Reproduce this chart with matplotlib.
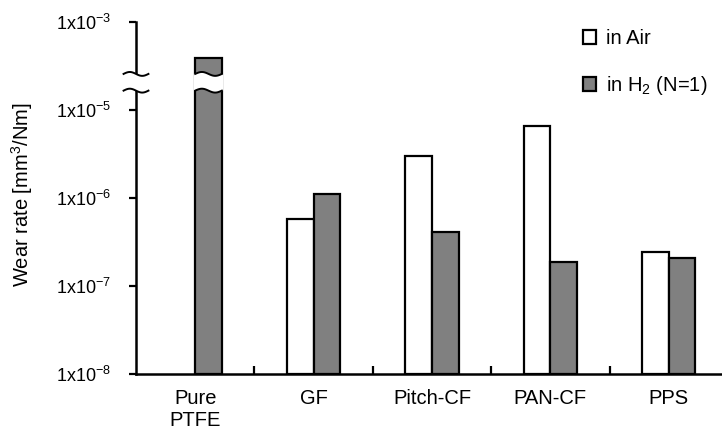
import numpy as np
import matplotlib
matplotlib.use("Agg")
import matplotlib.pyplot as plt
from matplotlib.patches import Polygon

plt.rcParams['font.family'] = ['Liberation Sans', 'DejaVu Sans']
plt.rcParams['mathtext.fontset'] = 'custom'
plt.rcParams['mathtext.rm'] = 'Liberation Sans'
plt.rcParams['mathtext.it'] = 'Liberation Sans:italic'

# ---- data ----
categories = ["Pure\nPTFE", "GF", "Pitch-CF", "PAN-CF", "PPS"]
wear_air = [np.nan, 5.7e-7, 3.0e-6, 6.6e-6, 2.45e-7]
wear_h2 = [1.5e-4, 1.1e-6, 4.1e-7, 1.85e-7, 2.1e-7]
ytick_vals = [1e-8, 1e-7, 1e-6, 1e-5, 1e-3]
ytick_labels = ["1x10$^{-8}$", "1x10$^{-7}$", "1x10$^{-6}$", "1x10$^{-5}$", "1x10$^{-3}$"]
series_labels = ["in Air", "in H$_2$ (N=1)"]
BREAK = 1e-5  # above this the log axis is compressed by 2


def fwd(v):
    v = np.asarray(v, dtype=float)
    lv = np.log10(np.clip(v, 1e-30, None))
    return np.where(lv <= -5, lv, -5 + (lv + 5) / 2)


def inv(t):
    t = np.asarray(t, dtype=float)
    return np.where(t <= -5, 10 ** t, 10 ** (-5 + (t + 5) * 2))


fig = plt.figure(figsize=(7.22, 4.37), dpi=100)
ax = fig.add_axes([136 / 722, 63 / 437, 592 / 722, 352 / 437])
ax.set_yscale('function', functions=(fwd, inv))

x = np.arange(len(categories))
w = 0.225
base = 1e-8
air = np.array(wear_air)
h2 = np.array(wear_h2)
m = ~np.isnan(air)
b_air = ax.bar(x[m] - w / 2, air[m] - base, w, bottom=base, color='white',
               edgecolor='black', linewidth=1.6, label=series_labels[0])
b_h2 = ax.bar(x + w / 2, h2 - base, w, bottom=base, color='#808080',
              edgecolor='black', linewidth=1.6, label=series_labels[1])

ax.set_xlim(-0.5, len(categories) - 0.5)
ax.set_ylim(1e-8, 1e-3)

ax.set_yticks(ytick_vals)
ax.set_yticklabels(ytick_labels, fontsize=13)
ax.yaxis.set_minor_locator(matplotlib.ticker.NullLocator())
ax.tick_params(axis='y', direction='out', length=5, width=1.6, pad=13)

ax.set_xticks(x)
ax.set_xticklabels(categories, fontsize=14.5, linespacing=1.15)
ax.set_xticks(np.arange(len(categories) - 1) + 0.5, minor=True)
ax.tick_params(axis='x', which='major', length=0, pad=11)
ax.tick_params(axis='x', which='minor', direction='in', length=6, width=1.6)

for s in ['top', 'right']:
    ax.spines[s].set_visible(False)
for s in ['left', 'bottom']:
    ax.spines[s].set_linewidth(1.8)

ax.set_ylabel("Wear rate [mm$^3$/Nm]", fontsize=14.5)
ax.yaxis.set_label_coords(-0.17, 0.51)

# ---- axis break ----
t_up, t_lo, amp = -4.59, -4.78, 0.022
xs = np.linspace(-1, 1, 80)
wv = -np.sin(np.pi * xs)


def add_break(xc, halfw, trans, white_pad):
    xl = xc + xs * (halfw + white_pad)
    top = inv(t_up + amp * wv)
    bot = inv(t_lo + amp * wv)
    verts = np.vstack([np.column_stack([xl, top]),
                       np.column_stack([xl[::-1], bot[::-1]])])
    ax.add_patch(Polygon(verts, closed=True, facecolor='white', edgecolor='none',
                         transform=trans, clip_on=False, zorder=5))
    xw = xc + xs * halfw
    ax.plot(xw, inv(t_up + amp * wv), color='black', lw=1.4, transform=trans,
            clip_on=False, zorder=6)
    ax.plot(xw, inv(t_lo + amp * wv), color='black', lw=1.4, transform=trans,
            clip_on=False, zorder=6)


add_break(x[0] + w / 2, w / 2, ax.transData, 0.012)
add_break(0.0, 0.021, ax.get_yaxis_transform(), 0.0)

leg = ax.legend(handles=[b_air, b_h2], labels=series_labels, loc='upper left',
                bbox_to_anchor=(583 / 722, 1 - 29 / 437), bbox_transform=fig.transFigure,
                frameon=False, fontsize=14.5, handlelength=0.65, handleheight=0.65,
                labelspacing=1.3, handletextpad=0.5, borderpad=0, borderaxespad=0)

fig.savefig("out.png", dpi=100)
